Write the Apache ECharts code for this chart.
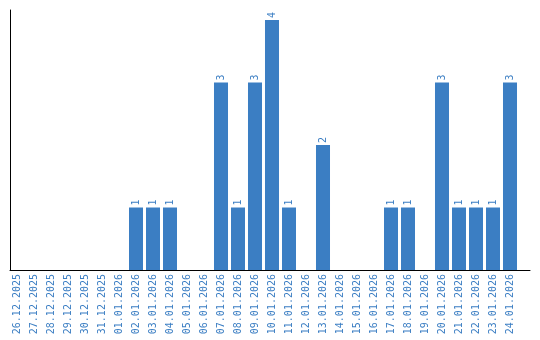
<!DOCTYPE html>
<html><head><meta charset="utf-8">
<script src="https://cdn.jsdelivr.net/npm/echarts@6/dist/echarts.min.js"></script>
<style>html,body{margin:0;padding:0;background:#fff}#c{width:540px;height:340px}</style>
</head><body><div id="c"></div>
<script>
const categories = ["26.12.2025","27.12.2025","28.12.2025","29.12.2025","30.12.2025","31.12.2025","01.01.2026","02.01.2026","03.01.2026","04.01.2026","05.01.2026","06.01.2026","07.01.2026","08.01.2026","09.01.2026","10.01.2026","11.01.2026","12.01.2026","13.01.2026","14.01.2026","15.01.2026","16.01.2026","17.01.2026","18.01.2026","19.01.2026","20.01.2026","21.01.2026","22.01.2026","23.01.2026","24.01.2026"];
const values = [0,0,0,0,0,0,0,1,1,1,0,0,3,1,3,4,1,0,2,0,0,0,1,1,0,3,1,1,1,3];
const blue = '#3b7ec3';
const chart = echarts.init(document.getElementById('c'), null, {renderer:'canvas'});
chart.setOption({
  animation:false,
  grid:[
    {left:8.5, width:510, top:10, height:260},
    {left:10, width:520, top:10, height:260}
  ],
  xAxis:[
    {type:'category', data:categories, gridIndex:0,
      axisLine:{show:false}, axisTick:{show:false},
      axisLabel:{rotate:90, color:blue, fontFamily:'DejaVu Sans Mono', fontSize:10, margin:4, interval:0}},
    {type:'value', gridIndex:1, min:0, max:1,
      axisLine:{show:true, onZero:false, lineStyle:{color:'#000', width:1}}, axisTick:{show:false},
      axisLabel:{show:false}, splitLine:{show:false}}
  ],
  yAxis:[
    {type:'value', gridIndex:0, min:0, max:4.16, axisLine:{show:false},
      axisLabel:{show:false}, axisTick:{show:false}, splitLine:{show:false}},
    {type:'value', gridIndex:1, min:0, max:1, axisLine:{show:true, onZero:false, lineStyle:{color:'#000', width:1}},
      axisLabel:{show:false}, axisTick:{show:false}, splitLine:{show:false}}
  ],
  series:[{type:'bar', xAxisIndex:0, yAxisIndex:0, data:values.map(v=>v===0?null:v), barCategoryGap:'17.6%',
    itemStyle:{color:blue},
    label:{show:true, position:'top', rotate:90, align:'left', verticalAlign:'middle', distance:2,
      color:blue, fontFamily:'DejaVu Sans Mono', fontSize:10}}]
});
</script></body></html>
